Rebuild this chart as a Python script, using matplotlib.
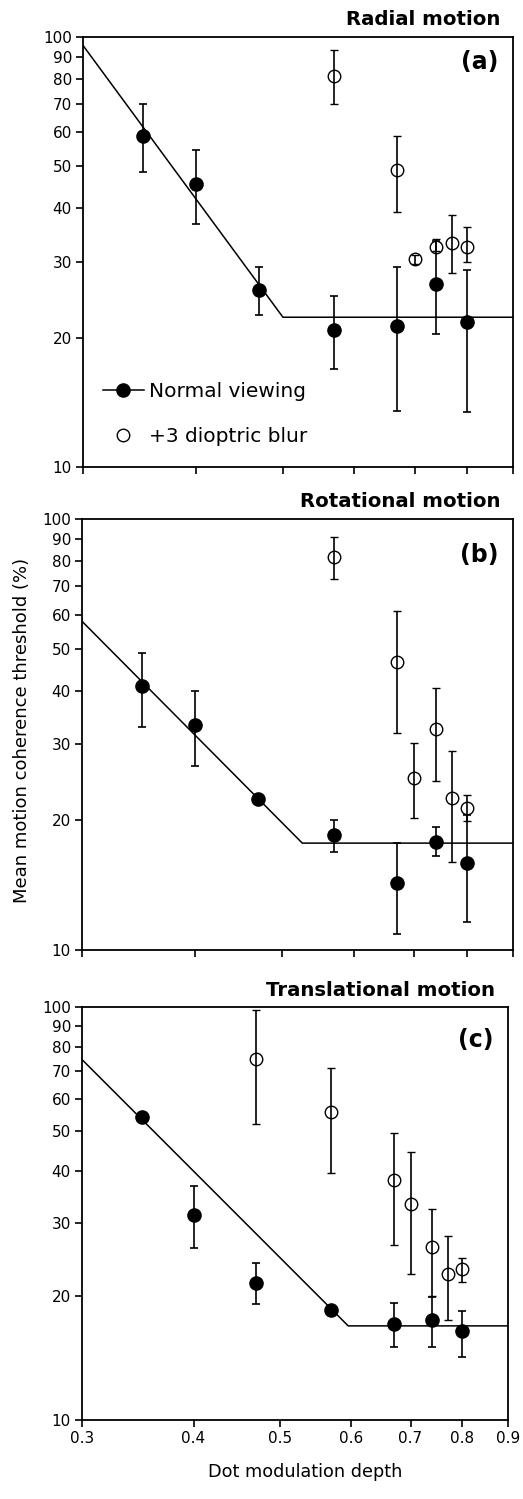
import numpy as np
import matplotlib
matplotlib.use('Agg')
from matplotlib import pyplot as plt
from matplotlib.ticker import FixedLocator, NullLocator, FixedFormatter, NullFormatter

# (a) radial motion
rad_norm_x = [0.35, 0.40, 0.47, 0.57, 0.67, 0.74, 0.80]
rad_norm_y = [59.0, 45.6, 25.8, 20.8, 21.3, 26.6, 21.7]
rad_norm_lo = [48.6, 36.7, 22.6, 16.9, 13.5, 20.4, 13.4]
rad_norm_hi = [69.7, 54.7, 29.2, 25.0, 29.2, 33.6, 28.7]
rad_blur_x = [0.57, 0.67, 0.70, 0.74, 0.77, 0.80]
rad_blur_y = [81.3, 49.0, 30.4, 32.5, 33.2, 32.4]
rad_blur_lo = [69.7, 39.2, 29.7, 31.8, 28.2, 30.0]
rad_blur_hi = [93.1, 58.7, 31.1, 33.9, 38.5, 36.1]
rad_fit_x = [0.30, 0.50, 0.90]
rad_fit_y = [95.6, 22.3, 22.3]

# (b) rotational motion
rot_norm_x = [0.35, 0.40, 0.47, 0.57, 0.67, 0.74, 0.80]
rot_norm_y = [41.0, 33.2, 22.4, 18.5, 14.3, 17.8, 15.9]
rot_norm_lo = [33.0, 26.7, 22.4, 16.9, 10.9, 16.5, 11.6]
rot_norm_hi = [49.0, 39.8, 22.4, 20.0, 17.7, 19.3, 20.6]
rot_blur_x = [0.57, 0.67, 0.70, 0.74, 0.77, 0.80]
rot_blur_y = [81.5, 46.5, 25.1, 32.5, 22.5, 21.3]
rot_blur_lo = [72.6, 31.8, 20.2, 24.7, 16.0, 19.9]
rot_blur_hi = [90.6, 61.3, 30.2, 40.5, 29.0, 22.9]
rot_fit_x = [0.30, 0.526, 0.90]
rot_fit_y = [57.9, 17.7, 17.7]

# (c) translational motion
tra_norm_x = [0.35, 0.40, 0.47, 0.57, 0.67, 0.74, 0.80]
tra_norm_y = [54.1, 31.3, 21.5, 18.5, 17.1, 17.5, 16.4]
tra_norm_lo = [54.1, 26.1, 19.1, 18.5, 15.0, 15.0, 14.2]
tra_norm_hi = [54.1, 36.8, 24.0, 18.5, 19.2, 19.9, 18.4]
tra_blur_x = [0.47, 0.57, 0.67, 0.70, 0.74, 0.77, 0.80]
tra_blur_y = [75.0, 55.6, 38.1, 33.4, 26.3, 22.6, 23.2]
tra_blur_lo = [52.0, 39.6, 26.6, 22.6, 20.0, 17.5, 21.6]
tra_blur_hi = [98.2, 71.1, 49.4, 44.5, 32.4, 27.9, 24.7]
tra_fit_x = [0.30, 0.596, 0.90]
tra_fit_y = [74.6, 16.9, 16.9]

x_ticks = [0.3, 0.4, 0.5, 0.6, 0.7, 0.8, 0.9]
y_ticks = [10, 20, 30, 40, 50, 60, 70, 80, 90, 100]

panels = [
    ('Radial motion', '(a)', rad_norm_x, rad_norm_y, rad_norm_lo, rad_norm_hi,
     rad_blur_x, rad_blur_y, rad_blur_lo, rad_blur_hi, rad_fit_x, rad_fit_y),
    ('Rotational motion', '(b)', rot_norm_x, rot_norm_y, rot_norm_lo, rot_norm_hi,
     rot_blur_x, rot_blur_y, rot_blur_lo, rot_blur_hi, rot_fit_x, rot_fit_y),
    ('Translational motion', '(c)', tra_norm_x, tra_norm_y, tra_norm_lo, tra_norm_hi,
     tra_blur_x, tra_blur_y, tra_blur_lo, tra_blur_hi, tra_fit_x, tra_fit_y),
]

# axes boxes in figure pixels: left, right, top, bottom
W, H = 523, 1499
boxes = [(83, 513, 37, 467), (82, 513, 519, 950), (82, 508, 1007, 1420)]
letter_y = [0.942, 0.916, 0.92]

plt.rcParams['font.family'] = ['DejaVu Sans']
fig = plt.figure(figsize=(W / 100, H / 100), dpi=100)

for i, (title, letter, nx, ny, nlo, nhi, bx, by, blo, bhi, fx, fy) in enumerate(panels):
    l, r, t, b = boxes[i]
    ax = fig.add_axes([l / W, 1 - b / H, (r - l) / W, (b - t) / H])
    ax.set_xscale('log')
    ax.set_yscale('log')

    ax.plot(fx, fy, color='black', lw=1.1, zorder=2)

    ny_a = np.array(ny)
    by_a = np.array(by)
    ax.errorbar(bx, by, yerr=[by_a - np.array(blo), np.array(bhi) - by_a],
                fmt='o', mfc='none', mec='black', mew=1.0, ms=9, ecolor='black',
                elinewidth=1.2, capsize=2.8, capthick=1.2, zorder=3)
    ax.errorbar(nx, ny, yerr=[ny_a - np.array(nlo), np.array(nhi) - ny_a],
                fmt='o', mfc='black', mec='black', ms=9.5, ecolor='black',
                elinewidth=1.2, capsize=2.8, capthick=1.2, zorder=4)

    ax.set_xlim(0.3, 0.9)
    ax.set_ylim(10, 100)
    ax.xaxis.set_major_locator(FixedLocator(x_ticks))
    ax.xaxis.set_minor_locator(NullLocator())
    ax.yaxis.set_major_locator(FixedLocator(y_ticks))
    ax.yaxis.set_minor_locator(NullLocator())
    ax.yaxis.set_major_formatter(FixedFormatter([str(v) for v in y_ticks]))
    if i == 2:
        ax.xaxis.set_major_formatter(FixedFormatter([str(v) for v in x_ticks]))
    else:
        ax.xaxis.set_major_formatter(NullFormatter())
    ax.tick_params(direction='out', length=5, width=1.2, labelsize=11, pad=3)
    for s in ax.spines.values():
        s.set_linewidth(1.3)

    ax.text(0.97, 1.04, title, transform=ax.transAxes, ha='right', va='center',
            fontsize=14.2, fontweight='bold')
    ax.text(0.967, letter_y[i], letter, transform=ax.transAxes, ha='right', va='center',
            fontsize=17, fontweight='bold')

    if i == 0:
        normal = plt.Line2D([], [], color='black', lw=1.1, marker='o', ms=9.5,
                            mfc='black', mec='black')
        blur = plt.Line2D([], [], ls='none', marker='o', ms=9, mfc='white',
                          mec='black', mew=1.0)
        ax.legend([normal, blur], ['Normal viewing', '+3 dioptric blur'],
                  loc='lower left', bbox_to_anchor=(0.005, 0.007), frameon=False,
                  fontsize=14.5, handlelength=2.0, handletextpad=0.25,
                  labelspacing=1.3)

fig.text(22 / W, 0.513, 'Mean motion coherence threshold (%)', rotation=90,
         ha='center', va='center', fontsize=13)
fig.text(0.583, 0.018, 'Dot modulation depth', ha='center', va='center', fontsize=12.7)

fig.savefig('out.png', dpi=100)
